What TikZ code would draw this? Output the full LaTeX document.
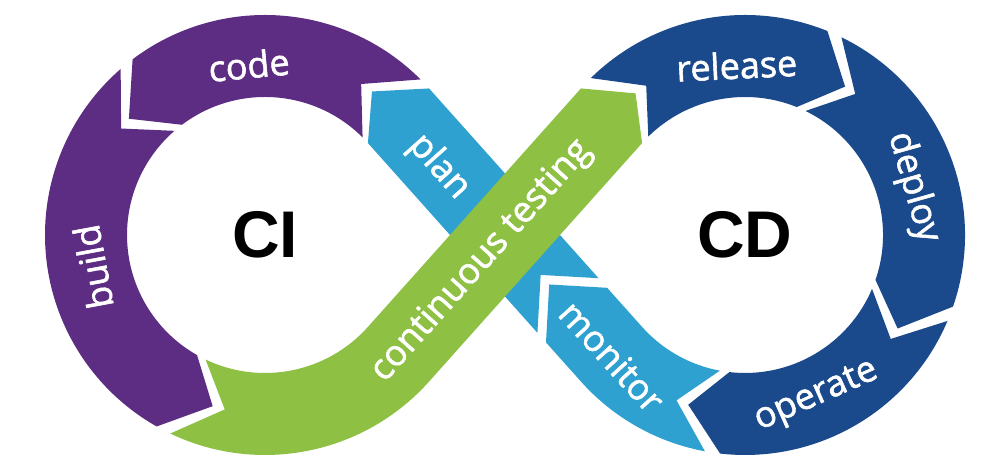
\documentclass[tikz,border=0pt]{standalone}
\usepackage{fontspec}
\setmainfont{Open Sans}
\newfontfamily\lblfont{Open Sans}[FakeBold=1.6]
\newfontfamily\bigfont{Liberation Sans}
\usetikzlibrary{calc}
\begin{document}
\begin{tikzpicture}[x=0.5pt,y=0.5pt,
  lbl/.style={text=white,inner sep=0pt,font=\lblfont\fontsize{18}{21}\selectfont},
  hub/.style={inner sep=0pt,font=\bigfont\bfseries\fontsize{33}{40}\selectfont}]
\definecolor{grape}{HTML}{5C2D82}
\definecolor{skyblue}{HTML}{2EA1D0}
\definecolor{leafgreen}{HTML}{8DC043}
\definecolor{navy}{HTML}{1B4A8C}
\useasboundingbox (0,0) rectangle (990,458);
\coordinate (L) at (265,223);
\coordinate (R) at (745,223);
\coordinate (gLo) at ($(L)+(-41.77:220)$);
\coordinate (gLi) at ($(L)+(-41.77:138)$);
\coordinate (gLc) at ($(L)+(-41.77:179)$);
\coordinate (gRo) at ($(R)+(138.23:220)$);
\coordinate (gRi) at ($(R)+(138.23:138)$);
\coordinate (gRc) at ($(R)+(138.23:179)$);
\coordinate (bRo) at ($(R)+(221.77:220)$);
\coordinate (bRi) at ($(R)+(221.77:138)$);
\coordinate (bRc) at ($(R)+(221.77:179)$);
\coordinate (bLo) at ($(L)+(41.77:220)$);
\coordinate (bLi) at ($(L)+(41.77:138)$);
\coordinate (bLc) at ($(L)+(41.77:179)$);
  \foreach \ctr/\crlr/\ta/\tn/\hb/\ht in {L/grape/45/57.5/127/139.5,L/grape/131/143.5/240.5/253,R/navy/134.5/123.5/68/56,R/navy/64/52/-19/-31.5,R/navy/-23/-35.5/-96.5/-108.5}
  {  \fill[\crlr,shift={(\ctr)}] (\ta:220) arc[start angle=\ta,end angle=\hb,radius=220] -- (\ht:179) -- (\hb:138) arc[start angle=\hb,end angle=\ta,radius=138] -- (\tn:179) -- cycle;}
\fill[skyblue] ($(R)+(-100.5:220)$) arc[start angle=-100.5,end angle=-138.23,radius=220] -- ($(bRo)!0.164!(bLi)$) -- ($(bRc)!0.2925!(bLc)$) -- ($(bRi)!0.164!(bLo)$) -- (bRi) arc[start angle=-138.23,end angle=-100.5,radius=138] -- ($(R)+(-112.5:179)$) -- cycle;
\fill[skyblue] ($(bRo)!0.2043!(bLi)$) -- (bLi) -- ($(L)+(53.3:179)$) -- (bLo) -- ($(bRi)!0.2043!(bLo)$) -- ($(bRc)!0.3325!(bLc)$) -- cycle;
\fill[leafgreen] ($(L)+(244.5:220)$) arc[start angle=244.5,end angle=318.23,radius=220] -- (gRi) -- ($(R)+(127.7:179)$) -- (gRo) -- (gLi) arc[start angle=318.23,end angle=244.5,radius=138] -- ($(L)+(257:179)$) -- cycle;
  \foreach \ctr/\ang/\rad/\rot/\txt in {L/95.4/171/5.4/code,L/190.5/175/100.5/build,R/92.8/170/2.8/release,R/15.8/175/-74.2/deploy,R/-66.1/177/23.9/operate,R/-137.6/180/-47.6/monitor}
  {  \node[lbl,rotate=\rot] (\txt) at ($(\ctr)+(\ang:\rad)$) {\txt};}
\node[lbl,rotate=-48.23] (plan) at (439,291) {plan};
\node[lbl,rotate=48.23] (testing) at ($(gLc)!0.39!(gRc)$) {continuous testing};
\node[hub] (ci) at (L) {CI};
\node[hub] (cd) at (R) {CD};
\end{tikzpicture}
\end{document}
